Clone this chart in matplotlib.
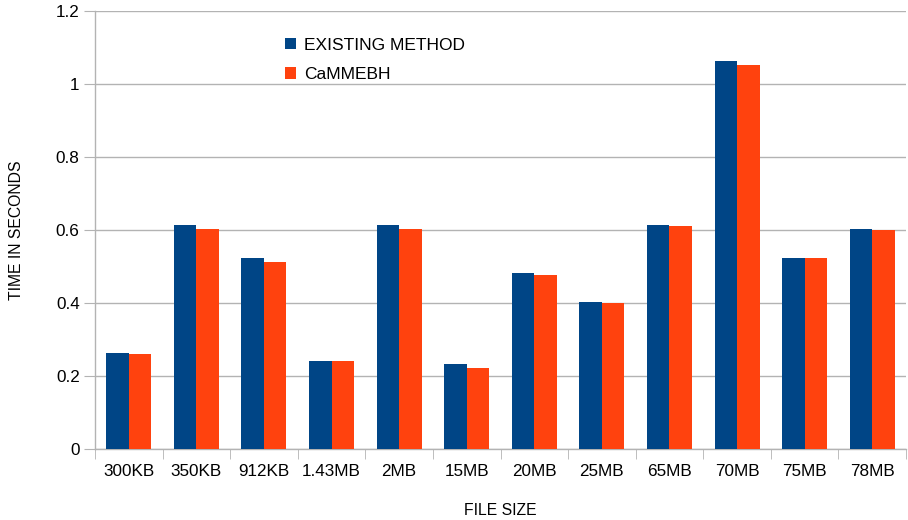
import numpy as np
import matplotlib.pyplot as plt
from matplotlib.ticker import FuncFormatter

plt.rcParams['font.family'] = ['Liberation Sans', 'DejaVu Sans']

# data
file_sizes = ['300KB', '350KB', '912KB', '1.43MB', '2MB', '15MB',
              '20MB', '25MB', '65MB', '70MB', '75MB', '78MB']
existing_method = [0.262, 0.614, 0.522, 0.242, 0.615, 0.233,
                   0.483, 0.402, 0.614, 1.062, 0.524, 0.603]
cammebh = [0.261, 0.604, 0.513, 0.242, 0.602, 0.222,
           0.478, 0.399, 0.612, 1.052, 0.522, 0.599]
y_ticks = [0, 0.2, 0.4, 0.6, 0.8, 1.0, 1.2]

blue = '#004586'
orange = '#ff420e'
grid_col = '#b3b3b3'

fig = plt.figure(figsize=(9.08, 5.2), dpi=100)
ax = fig.add_axes([95 / 908, 1 - 449 / 520, (906 - 95) / 908, (449 - 11) / 520])

x = np.arange(len(file_sizes))
w = 1 / 3
ax.bar(x - w / 2, existing_method, width=w, color=blue, label='EXISTING METHOD', zorder=3)
ax.bar(x + w / 2, cammebh, width=w, color=orange, label='CaMMEBH', zorder=3)

ax.set_xlim(-0.5, len(file_sizes) - 0.5)
ax.set_ylim(0, 1.2)
ax.set_yticks(y_ticks)
ax.yaxis.set_major_formatter(FuncFormatter(lambda v, p: f'{v:g}'))
ax.yaxis.grid(True, color=grid_col, linewidth=1, zorder=0)

# category labels centred, tick marks between categories
ax.set_xticks(x)
ax.set_xticklabels(file_sizes)
ax.set_xticks(np.arange(len(file_sizes) + 1) - 0.5, minor=True)
ax.tick_params(axis='x', which='major', length=0, pad=11, labelsize=12.3, colors='#000000')
ax.tick_params(axis='x', which='minor', length=7, color=grid_col, direction='out')
ax.tick_params(axis='y', length=8, color=grid_col, labelsize=12.3, pad=3)

for side in ['top', 'right']:
    ax.spines[side].set_visible(False)
for side in ['left', 'bottom']:
    ax.spines[side].set_color(grid_col)
    ax.spines[side].set_linewidth(1)

ax.set_xlabel('FILE SIZE', fontsize=11.3, labelpad=17)
ax.set_ylabel('TIME IN SECONDS', fontsize=11.3, labelpad=23)

ax.legend(loc='upper left', bbox_to_anchor=(0.215, 0.975), frameon=False,
          fontsize=12.5, handlelength=0.65, handleheight=0.65, handletextpad=0.45,
          labelspacing=0.84)

fig.savefig('out.png', dpi=100)
